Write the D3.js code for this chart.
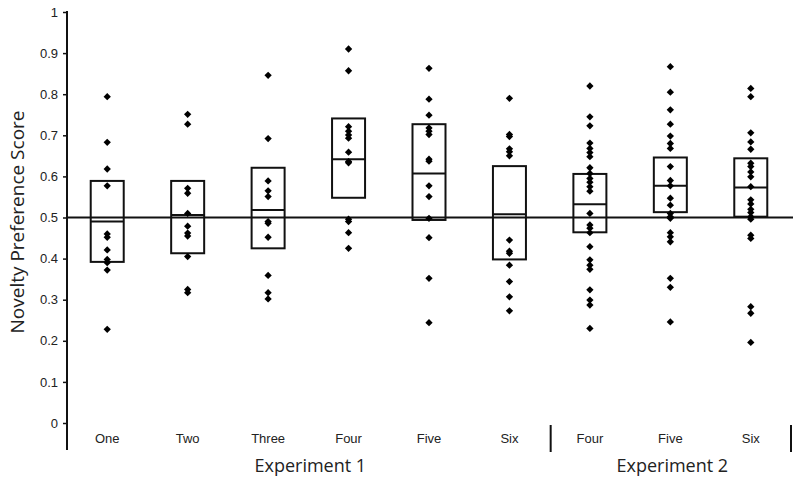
<!DOCTYPE html>
<html><head><meta charset="utf-8">
<script src="https://cdn.jsdelivr.net/npm/d3@7"></script>
<style>body{margin:0;background:#fff}svg{display:block}</style>
</head><body><div id="chart"></div>
<script>
const categories = ["One","Two","Three","Four","Five","Six","Four","Five","Six"];
const groupIds = ["e1-1","e1-2","e1-3","e1-4","e1-5","e1-6","e2-4","e2-5","e2-6"];
const experiments = ["Experiment 1","Experiment 2"];
const experimentOf = [0,0,0,0,0,0,1,1,1];
const yTicks = [0,0.1,0.2,0.3,0.4,0.5,0.6,0.7,0.8,0.9,1];
const chance = 0.5;

const points = [
  [0.794,0.683,0.618,0.577,0.460,0.452,0.421,0.398,0.390,0.372,0.228],
  [0.751,0.727,0.571,0.559,0.510,0.479,0.462,0.455,0.405,0.325,0.317],
  [0.846,0.692,0.589,0.565,0.551,0.490,0.486,0.452,0.359,0.317,0.302],
  [0.910,0.857,0.721,0.710,0.701,0.693,0.659,0.636,0.633,0.496,0.490,0.463,0.425],
  [0.863,0.788,0.749,0.718,0.710,0.702,0.642,0.637,0.577,0.551,0.498,0.451,0.352,0.244],
  [0.790,0.702,0.697,0.667,0.660,0.650,0.445,0.418,0.413,0.384,0.344,0.307,0.273],
  [0.820,0.745,0.723,0.681,0.668,0.658,0.648,0.621,0.607,0.595,0.586,0.575,0.564,0.510,0.482,0.474,0.463,0.429,0.397,0.384,0.374,0.324,0.299,0.287,0.230],
  [0.867,0.805,0.762,0.727,0.698,0.680,0.668,0.624,0.590,0.577,0.547,0.530,0.510,0.502,0.498,0.463,0.453,0.441,0.352,0.330,0.246],
  [0.814,0.794,0.706,0.684,0.666,0.632,0.624,0.611,0.599,0.575,0.543,0.533,0.520,0.512,0.502,0.496,0.457,0.449,0.283,0.267,0.196]
];
const boxTop    = [0.589,0.589,0.621,0.741,0.727,0.625,0.606,0.646,0.644];
const boxMedian = [0.490,0.506,0.518,0.642,0.607,0.508,0.532,0.577,0.573];
const boxBottom = [0.392,0.413,0.425,0.548,0.494,0.398,0.464,0.513,0.502];

const W = 800, H = 481;
const svg = d3.select("#chart").append("svg").attr("width", W).attr("height", H);

const x = d3.scaleBand().domain(groupIds).range([67, 791]);
const y = d3.scaleLinear().domain([0, 1]).range([423, 12]);
const bw = 33;

// y axis
const yAxis = d3.axisLeft(y).tickValues(yTicks).tickSize(4).tickPadding(5)
  .tickFormat(d => d3.format("")(+d.toFixed(1)));
const ga = svg.append("g").attr("transform", "translate(67,0)").call(yAxis);
ga.select(".domain").remove();
ga.selectAll(".tick line").attr("stroke", "#111").attr("stroke-width", 1.5);
ga.selectAll(".tick text").attr("fill", "#222").style("font-family", "Liberation Sans, Arial, sans-serif").style("font-size", "13px");
svg.append("line").attr("x1", 67).attr("x2", 67).attr("y1", 11).attr("y2", 450)
  .attr("stroke", "#111").attr("stroke-width", 2);

// separators
[6, 9].forEach(i => {
  const xx = i < 9 ? x(groupIds[i]) + 1 : x.range()[1];
  svg.append("line").attr("x1", xx).attr("x2", xx).attr("y1", 425).attr("y2", 452)
    .attr("stroke", "#111").attr("stroke-width", 2);
});

// chance line
svg.append("line").attr("x1", 67).attr("x2", 793).attr("y1", y(chance)).attr("y2", y(chance))
  .attr("stroke", "#111").attr("stroke-width", 2);

// boxes
const gb = svg.append("g");
groupIds.forEach((g, i) => {
  const cx = x(g) + x.bandwidth() / 2;
  gb.append("rect").attr("x", cx - bw / 2).attr("width", bw)
    .attr("y", y(boxTop[i])).attr("height", y(boxBottom[i]) - y(boxTop[i]))
    .attr("fill", "none").attr("stroke", "#111").attr("stroke-width", 2);
  gb.append("line").attr("x1", cx - bw / 2).attr("x2", cx + bw / 2)
    .attr("y1", y(boxMedian[i])).attr("y2", y(boxMedian[i]))
    .attr("stroke", "#111").attr("stroke-width", 2);
});

// points
const diamond = d3.symbol().type(d3.symbolDiamond2).size(34);
groupIds.forEach((g, i) => {
  const cx = x(g) + x.bandwidth() / 2;
  svg.append("g").selectAll("path").data(points[i]).join("path")
    .attr("d", diamond).attr("transform", d => `translate(${cx},${y(d)})`)
    .attr("fill", "#000");
});

// category labels
svg.append("g").selectAll("text").data(groupIds).join("text")
  .attr("x", d => x(d) + x.bandwidth() / 2).attr("y", 443)
  .attr("text-anchor", "middle").attr("fill", "#222")
  .style("font-family", "Liberation Sans Narrow, Liberation Sans, Arial, sans-serif").style("font-size", "13px")
  .text((d, i) => categories[i]);

// experiment labels
experiments.forEach((e, k) => {
  const idx = groupIds.filter((g, i) => experimentOf[i] === k);
  const x0 = x(idx[0]), x1 = x(idx[idx.length - 1]) + x.bandwidth();
  svg.append("text").attr("x", (x0 + x1) / 2 + 2).attr("y", 472).attr("text-anchor", "middle")
    .attr("fill", "#222").style("font-family", "Open Sans, sans-serif").style("font-size", "18px")
    .text(e);
});

// y title
svg.append("text").attr("transform", `translate(24,222) rotate(-90)`)
  .attr("text-anchor", "middle").attr("fill", "#222")
  .style("font-family", "Open Sans, sans-serif").style("font-size", "19px")
  .text("Novelty Preference Score");
</script></body></html>
